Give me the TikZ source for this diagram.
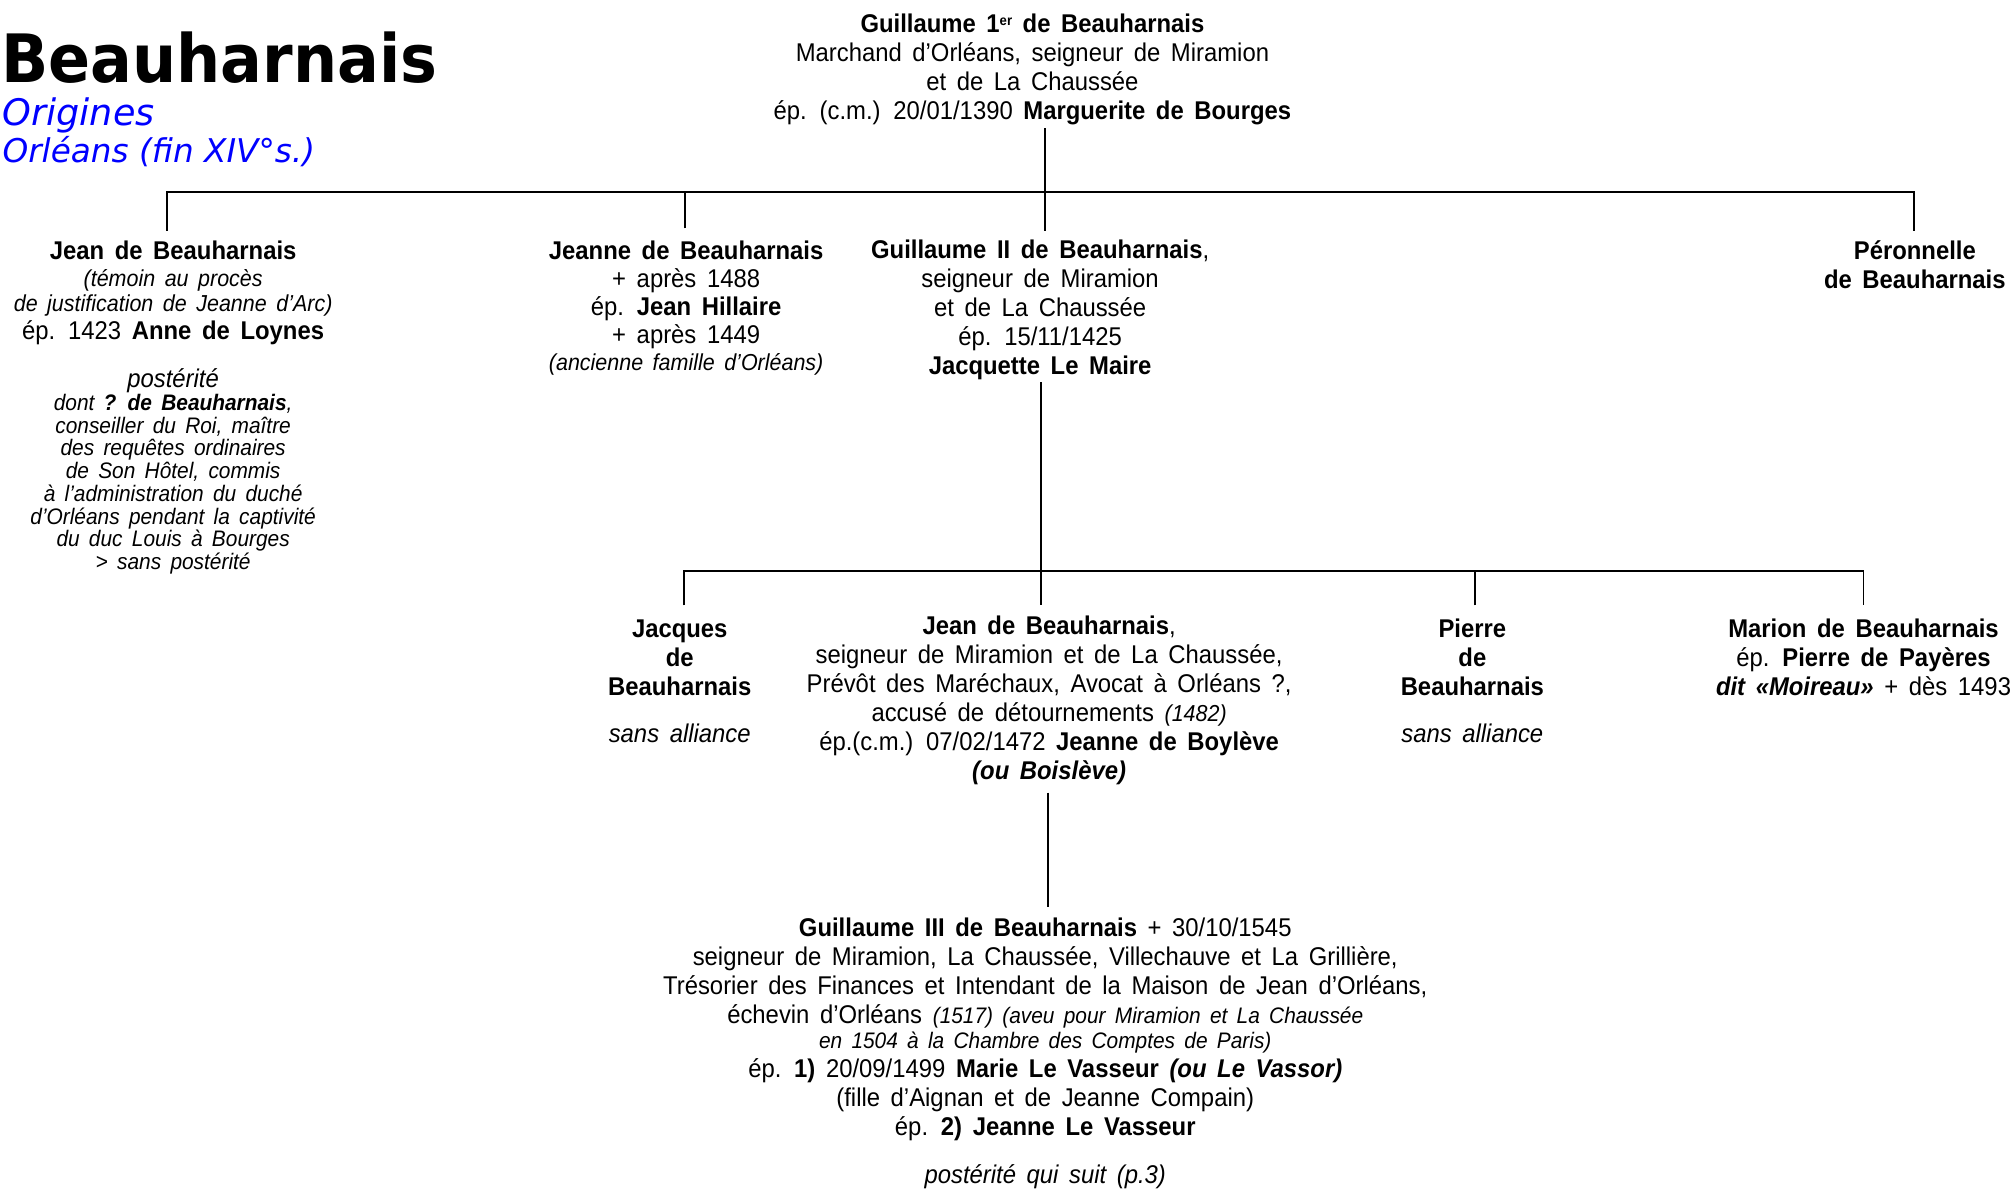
\documentclass[tikz,border=0pt]{standalone}
\usepackage{fontspec}
\setmainfont{Liberation Sans}[FakeStretch=0.93,WordSpace=1.6]
\newfontfamily\titlefont{DejaVu Sans}[FakeStretch=0.93]
\newfontfamily\subfont{DejaVu Sans}
\newcommand{\smallit}{\fontsize{18}{18}\selectfont\itshape}
\newcommand{\postit}{\fontsize{17.5}{17.7}\selectfont\itshape}
\newcommand{\supsmall}[1]{\raisebox{5.5pt}{\fontsize{11}{11}\selectfont #1}}
\begin{document}
\begin{tikzpicture}[x=1pt,y=-1pt,
  every node/.style={inner sep=0pt,outer sep=0pt},
  person/.style={align=center,anchor=base,font=\fontsize{20}{22.6}\selectfont},
  link/.style={line width=1.5pt}]
\fill[white] (0,0) rectangle (1568,926.5);
\useasboundingbox (0,0) rectangle (1568,926.5);

% title
\node[anchor=base west,font={\titlefont\bfseries\fontsize{52}{52}\selectfont}] (title) at (1,64) {Beauharnais};
\node[anchor=base west,text=blue,font={\subfont\itshape\fontsize{28.5}{28.5}\selectfont}] (orig) at (2,97.5) {Origines};
\node[anchor=base west,text=blue,font={\subfont\itshape\fontsize{25.5}{25.5}\selectfont}] (orl) at (2,127) {Orléans (fin XIV°s.)};

% generation 1 (anchor base = baseline of last line)
\node[person] (g1) at (805,93) {\textbf{Guillaume 1\supsmall{er} de Beauharnais}\\ Marchand d’Orléans, seigneur de Miramion\\ et de La Chaussée\\ ép. (c.m.) 20/01/1390 \textbf{Marguerite de Bourges}};

% generation 2
\node[person] (jean1) at (135,265) {\textbf{Jean de Beauharnais}\\[-1.6pt] {\smallit (témoin au procès}\\[-2.6pt] {\smallit de justification de Jeanne d’Arc)}\\[-0.6pt] ép. 1423 \textbf{Anne de Loynes}};
\node[person,font=\postit] (jean1post) at (135,444) {{\fontsize{20}{17.7}\selectfont postérité}\\ dont \textbf{? de Beauharnais},\\ conseiller du Roi, maître\\ des requêtes ordinaires\\ de Son Hôtel, commis\\ à l’administration du duché\\ d’Orléans pendant la captivité\\ du duc Louis à Bourges\\ > sans postérité};
\node[person] (jeanne) at (535,289) {\textbf{Jeanne de Beauharnais}\\[-1pt] + après 1488\\[-0.6pt] ép. \textbf{Jean Hillaire}\\[-0.6pt] + après 1449\\[-1.6pt] {\smallit (ancienne famille d’Orléans)}};
\node[person] (g2) at (811,292) {\textbf{Guillaume II de Beauharnais},\\ seigneur de Miramion\\ et de La Chaussée\\ ép. 15/11/1425\\ \textbf{Jacquette Le Maire}};
\node[person] (peron) at (1493,225) {\textbf{Péronnelle}\\ \textbf{de Beauharnais}};

% generation 3
\node[person] (jacques) at (530,579) {\textbf{Jacques}\\ \textbf{de}\\ \textbf{Beauharnais}\\[14.4pt] \textit{sans alliance}};
\node[person] (jean2) at (818,608) {\textbf{Jean de Beauharnais},\\ seigneur de Miramion et de La Chaussée,\\ Prévôt des Maréchaux, Avocat à Orléans ?,\\ accusé de détournements {\smallit (1482)}\\ ép.(c.m.) 07/02/1472 \textbf{Jeanne de Boylève}\\ \textbf{\textit{(ou Boislève)}}};
\node[person] (pierre) at (1148,579) {\textbf{Pierre}\\ \textbf{de}\\ \textbf{Beauharnais}\\[14.4pt] \textit{sans alliance}};
\node[person] (marion) at (1453,542) {\textbf{Marion de Beauharnais}\\ ép. \textbf{Pierre de Payères}\\ \textbf{\textit{dit «Moireau»}} + dès 1493};

% generation 4
\node[person] (g3) at (815,922.5) {\textbf{Guillaume III de Beauharnais} + 30/10/1545\\ seigneur de Miramion, La Chaussée, Villechauve et La Grillière,\\ Trésorier des Finances et Intendant de la Maison de Jean d’Orléans,\\ échevin d’Orléans {\postit (1517) (aveu pour Miramion et La Chaussée}\\[-3.6pt] {\postit en 1504 à la Chambre des Comptes de Paris)}\\[0.4pt] ép. \textbf{1)} 20/09/1499 \textbf{Marie Le Vasseur \textit{(ou Le Vassor)}}\\ (fille d’Aignan et de Jeanne Compain)\\ ép. \textbf{2) Jeanne Le Vasseur}\\[14.4pt] \textit{postérité qui suit (p.3)}};

% connectors
\coordinate (g1b) at (815,100);
\coordinate (bus1L) at (130,150);
\coordinate (bus1R) at (1492,150);
\coordinate (jean1t) at (130,180);
\coordinate (jeannet) at (534,178);
\coordinate (g2t) at (815,180);
\coordinate (peront) at (1492,180);
\draw[link] (jean1t) -- (bus1L) -- (bus1R) -- (peront);
\draw[link] (jeannet) -- (jeannet |- bus1L);
\draw[link] (g1b) -- (g2t);

\coordinate (g2b) at (812,298);
\coordinate (bus2L) at (533,445);
\coordinate (bus2R) at (1453,445);
\coordinate (jacquest) at (533,472);
\coordinate (jean2t) at (812,472);
\coordinate (pierret) at (1150,472);
\coordinate (mariont) at (1453,472);
\draw[link] (jacquest) -- (bus2L) -- (bus2R) -- (mariont);
\draw[link] (g2b) -- (jean2t);
\draw[link] (pierret) -- (pierret |- bus2L);

\coordinate (jean2b) at (817,618);
\coordinate (g3t) at (817,707);
\draw[link] (jean2b) -- (g3t);
\end{tikzpicture}
\end{document}
